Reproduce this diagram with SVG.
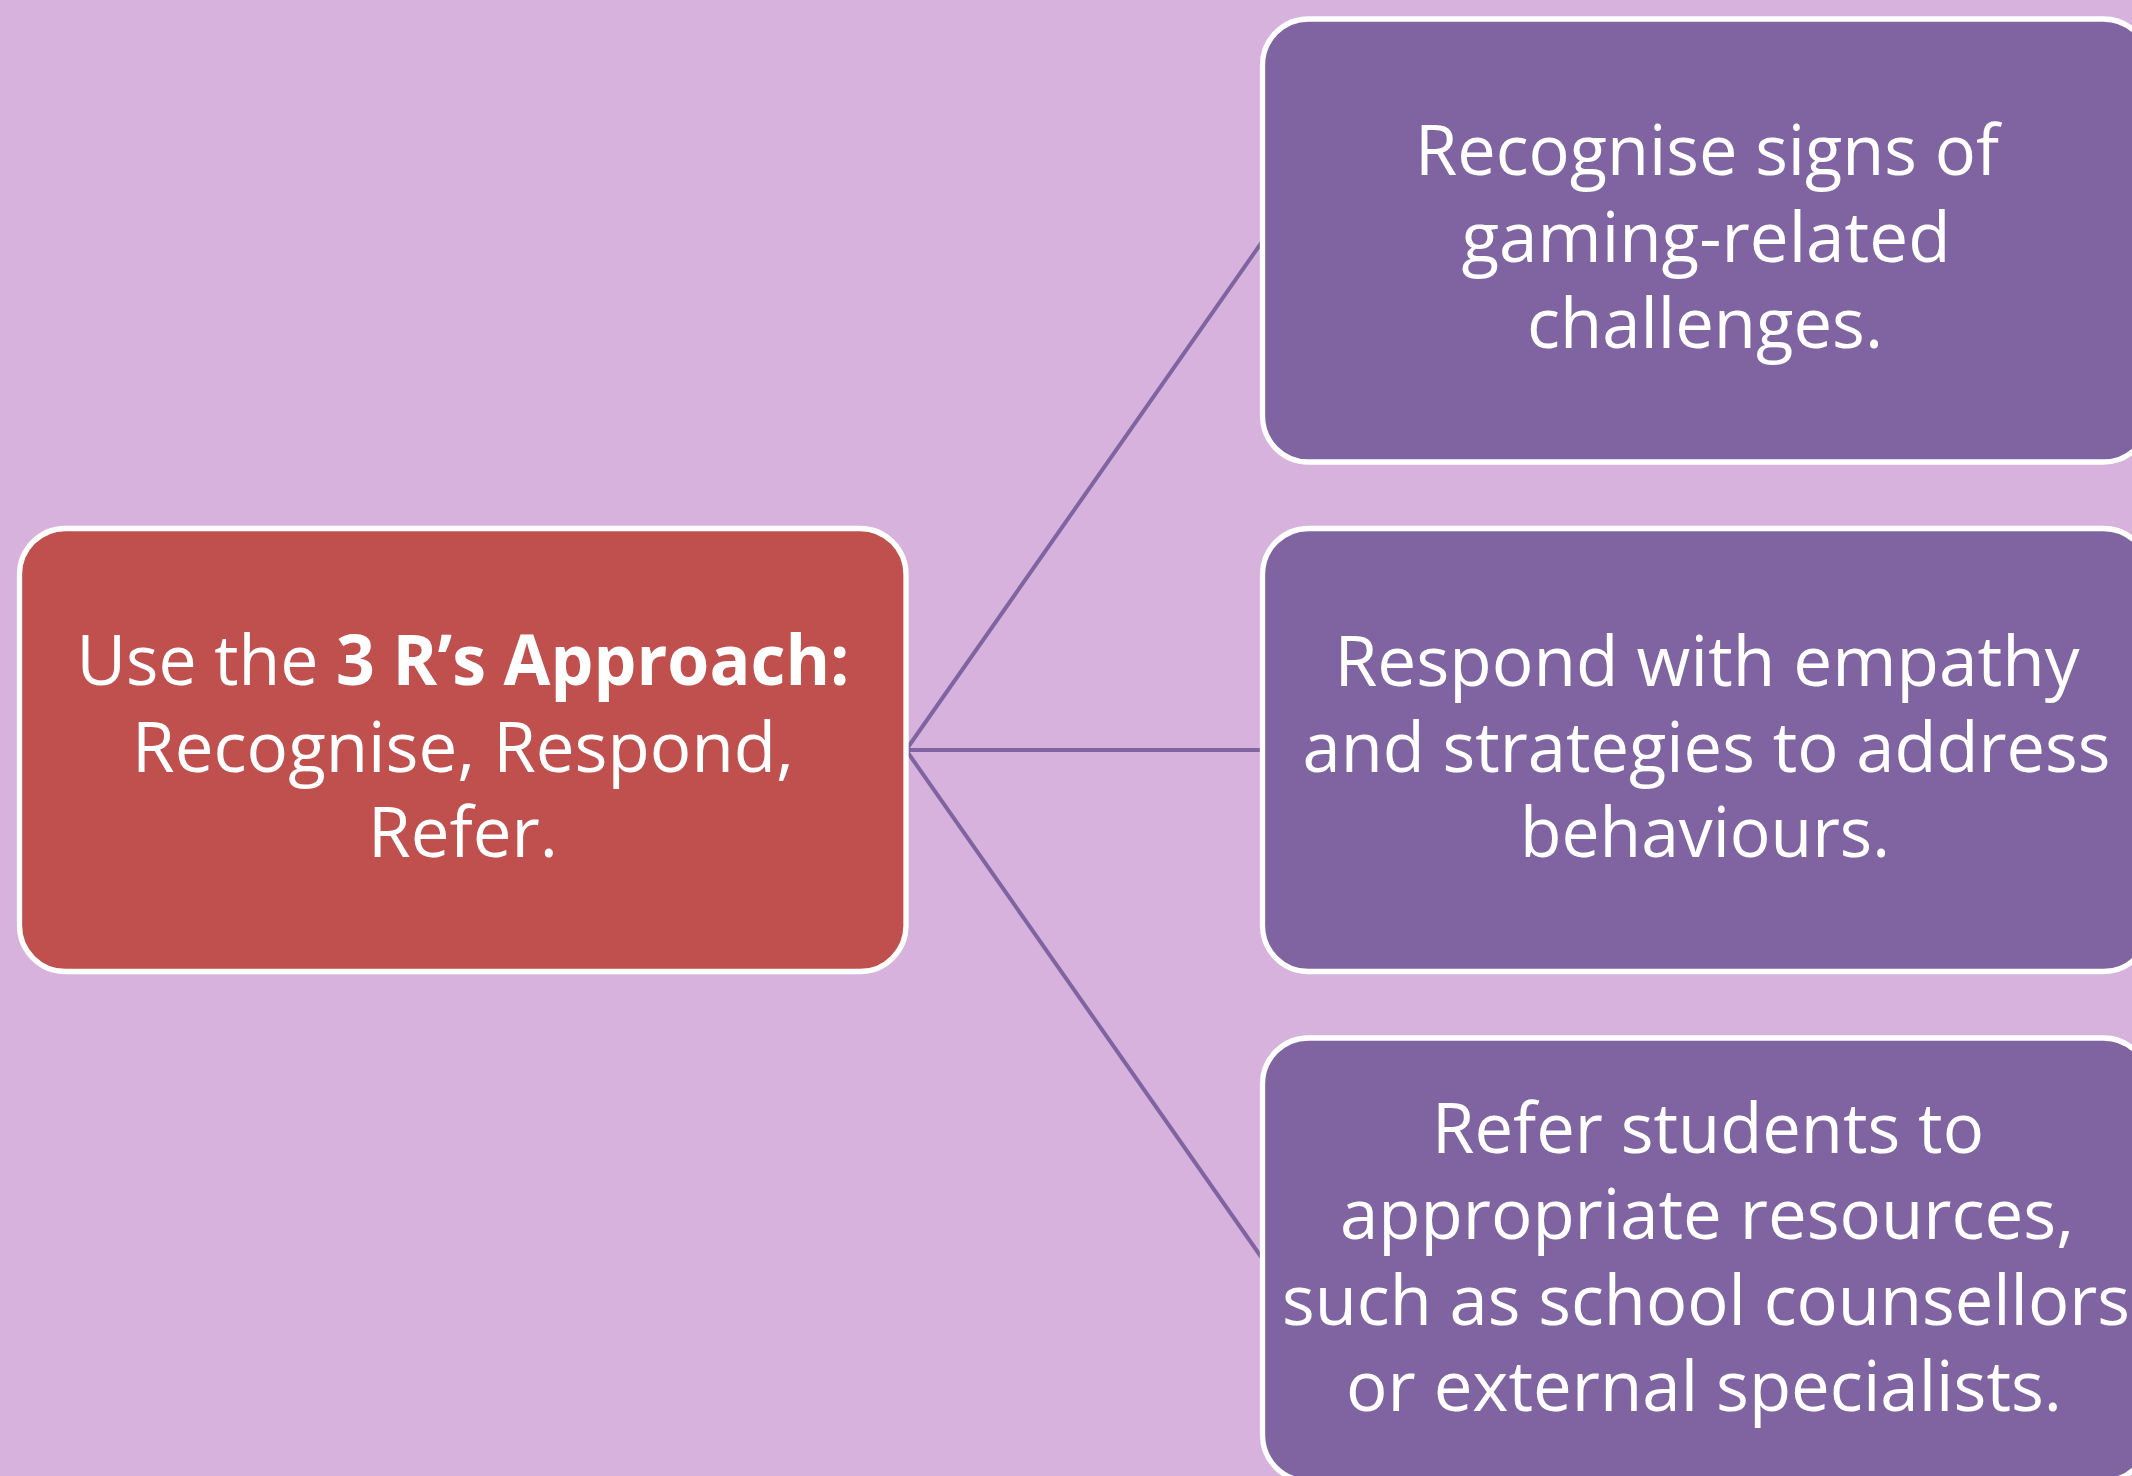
<svg xmlns="http://www.w3.org/2000/svg" width="2132" height="1476" viewBox="0 0 2132 1476">
  <style>
    .bg { fill: #D6B2DD; }
    .link { stroke: #8064A2; stroke-width: 4; fill: none; }
    .box { stroke: #FFFFFF; stroke-width: 5.3; }
    .root { fill: #C0504D; }
    .leaf { fill: #8064A2; }
    .label { font-family: "Open Sans", "Noto Sans", "Liberation Sans", sans-serif; font-size: 70px; fill: #FFFFFF; text-anchor: middle; }
    .strong { font-weight: bold; }
  </style>

  <rect class="bg" x="0" y="0" width="2132" height="1476"/>

  <!-- connectors from the central box to each branch -->
  <g id="connectors">
    <line class="link" x1="906" y1="750" x2="1263" y2="240.5"/>
    <line class="link" x1="906" y1="750" x2="1263" y2="750"/>
    <line class="link" x1="906" y1="750" x2="1263" y2="1259.5"/>
  </g>

  <g id="node-approach">
    <rect class="box root" x="19.5" y="528.5" width="886.5" height="443" rx="46" ry="46"/>
    <text class="label" x="463" y="685" textLength="773" lengthAdjust="spacingAndGlyphs">Use the <tspan class="strong">3 R’s Approach:</tspan></text>
    <text class="label" x="463" y="771.5" textLength="662" lengthAdjust="spacingAndGlyphs">Recognise, Respond,</text>
    <text class="label" x="463" y="857" textLength="190" lengthAdjust="spacingAndGlyphs">Refer.</text>
  </g>

  <g id="node-recognise">
    <rect class="box leaf" x="1262.5" y="19" width="887" height="443" rx="46" ry="46"/>
    <text class="label" x="1707" y="175" textLength="584" lengthAdjust="spacingAndGlyphs">Recognise signs of</text>
    <text class="label" x="1706" y="261.5" textLength="489" lengthAdjust="spacingAndGlyphs">gaming-related</text>
    <text class="label" x="1705" y="348" textLength="356" lengthAdjust="spacingAndGlyphs">challenges.</text>
  </g>

  <g id="node-respond">
    <rect class="box leaf" x="1262.5" y="528.5" width="887" height="443" rx="46" ry="46"/>
    <text class="label" x="1707" y="686" textLength="745" lengthAdjust="spacingAndGlyphs">Respond with empathy</text>
    <text class="label" x="1706.5" y="771.5" textLength="808" lengthAdjust="spacingAndGlyphs">and strategies to address</text>
    <text class="label" x="1705" y="857" textLength="370" lengthAdjust="spacingAndGlyphs">behaviours.</text>
  </g>

  <g id="node-refer">
    <rect class="box leaf" x="1262.5" y="1038" width="887" height="443" rx="46" ry="46"/>
    <text class="label" x="1708" y="1152.5" textLength="552" lengthAdjust="spacingAndGlyphs">Refer students to</text>
    <text class="label" x="1707" y="1238.5" textLength="734" lengthAdjust="spacingAndGlyphs">appropriate resources,</text>
    <text class="label" x="1706" y="1325" textLength="848" lengthAdjust="spacingAndGlyphs">such as school counsellors</text>
    <text class="label" x="1704" y="1410.5" textLength="716" lengthAdjust="spacingAndGlyphs">or external specialists.</text>
  </g>
</svg>
